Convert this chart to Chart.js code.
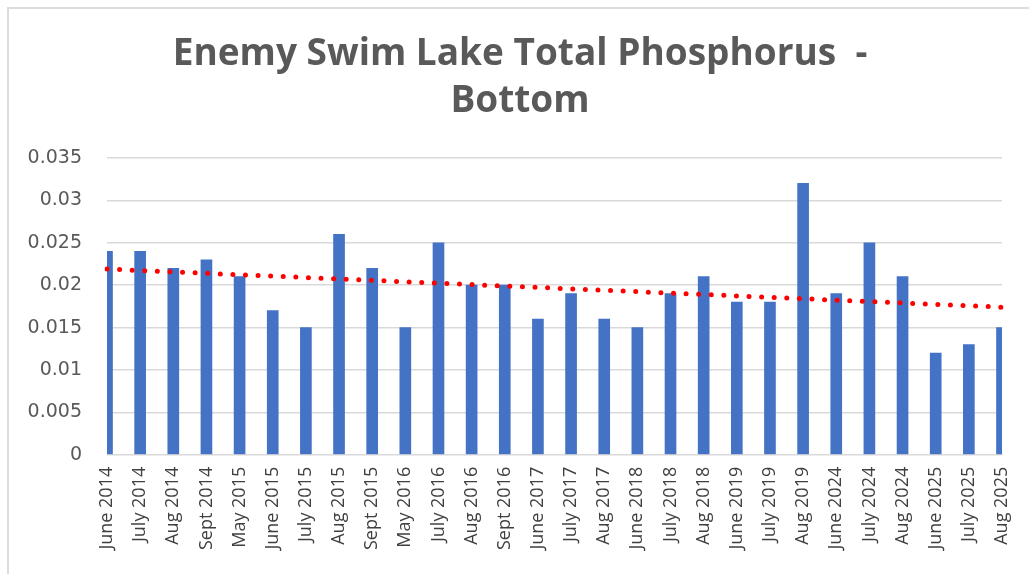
<!DOCTYPE html>
<html>
<head>
<meta charset="utf-8">
<script src="https://cdn.jsdelivr.net/npm/chart.js@4/dist/chart.umd.min.js"></script>
<style>
  body { margin: 0; background: #ffffff; }
  #wrap { position: relative; width: 1029px; height: 574px; }
  #frame { position: absolute; left: 7px; top: 7px; right: 0; bottom: 0; border-left: 2px solid #dcdcdc; border-top: 2px solid #dcdcdc; }
  canvas { position: absolute; left: 0; top: 0; }
</style>
</head>
<body>
<div id="wrap">
  <div id="frame"></div>
  <canvas id="tpChart" width="1029" height="574"></canvas>
</div>
<script>
// sample dates
const meses = [
  "June 2014", "July 2014", "Aug 2014", "Sept 2014", "May 2015", "June 2015", "July 2015",
  "Aug 2015", "Sept 2015", "May 2016", "July 2016", "Aug 2016", "Sept 2016", "June 2017",
  "July 2017", "Aug 2017", "June 2018", "July 2018", "Aug 2018", "June 2019", "July 2019",
  "Aug 2019", "June 2024", "July 2024", "Aug 2024", "June 2025", "July 2025", "Aug 2025"
];

// total phosphorus (mg/L) at the bottom
const fosforo = [
  0.024, 0.024, 0.022, 0.023, 0.021, 0.017, 0.015,
  0.026, 0.022, 0.015, 0.025, 0.020, 0.020, 0.016,
  0.019, 0.016, 0.015, 0.019, 0.021, 0.018, 0.018,
  0.032, 0.019, 0.025, 0.021, 0.012, 0.013, 0.015
];

// trendline, read at first and last sample
const tendencia = [0.0219].concat(new Array(26).fill(null), [0.0174]);

const yTicks = [0, 0.005, 0.01, 0.015, 0.02, 0.025, 0.03, 0.035];

// nudge the title a bit to the right, like the excel chart
const moverTitulo = {
  id: "moverTitulo",
  afterLayout: function (chart) {
    const t = chart.titleBlock;
    if (!t) return;
    t.left += 12;
    t.right += 12;
  },
};

const ctx = document.getElementById("tpChart").getContext("2d");

new Chart(ctx, {
  type: "bar",
  data: {
    labels: meses,
    datasets: [
      {
        type: "line",
        data: tendencia,
        borderColor: "#ff0000",
        borderWidth: 5,
        borderDash: [0, 12.6],
        borderCapStyle: "round",
        pointRadius: 0,
        spanGaps: true,
        fill: false,
        order: 0,
      },
      {
        data: fosforo,
        backgroundColor: "#4472c4",
        barThickness: 11,
        order: 1,
      },
    ],
  },
  options: {
    responsive: false,
    animation: false,
    layout: {
      padding: { left: 14, right: 27, top: 0, bottom: 12 },
    },
    plugins: {
      legend: { display: false },
      tooltip: { enabled: false },
      title: {
        display: true,
        text: ["Enemy Swim Lake Total Phosphorus  -", "Bottom"],
        color: "#595959",
        font: { family: "'Open Sans', sans-serif", size: 37, weight: "bold", lineHeight: 1.27 },
        padding: { top: 31, bottom: 33 },
      },
    },
    scales: {
      x: {
        offset: false,
        afterFit: function (axis) {
          axis.paddingRight = 0;
          axis.paddingLeft = 0;
        },
        grid: { display: false, drawTicks: false },
        border: { color: "#d9d9d9", width: 1 },
        ticks: {
          color: "#404040",
          minRotation: 90,
          maxRotation: 90,
          autoSkip: false,
          padding: 12,
          font: { family: "'Open Sans', sans-serif", size: 18 },
        },
      },
      y: {
        min: 0,
        max: 0.035,
        afterFit: function (axis) {
          axis.width = 93;
        },
        afterBuildTicks: function (axis) {
          axis.ticks = yTicks.map(function (v) { return { value: v }; });
        },
        grid: { color: "#d9d9d9", lineWidth: 1.5, drawTicks: false },
        border: { display: false },
        ticks: {
          color: "#595959",
          padding: 25,
          font: { family: "'DejaVu Sans', sans-serif", size: 19 },
          callback: function (v) { return String(v); },
        },
      },
    },
  },
  plugins: [moverTitulo],
});
</script>
</body>
</html>
